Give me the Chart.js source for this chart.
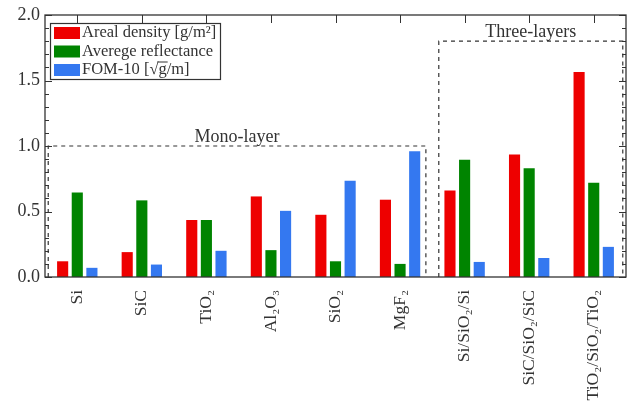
<!DOCTYPE html>
<html>
<head>
<meta charset="utf-8">
<script src="https://cdn.jsdelivr.net/npm/chart.js@4"></script>
<style>
html, body { margin: 0; background: #fff; }
#wrap { width: 630px; height: 407px; }
</style>
</head>
<body>
<div id="wrap"><canvas id="chartFom"></canvas></div>
<script>
var materials = ['Si', 'SiC', 'TiO₂', 'Al₂O₃', 'SiO₂', 'MgF₂', 'Si/SiO₂/Si', 'SiC/SiO₂/SiC', 'TiO₂/SiO₂/TiO₂'];
var arealDensity = [0.12, 0.19, 0.435, 0.615, 0.475, 0.59, 0.66, 0.935, 1.565];
var reflectance = [0.645, 0.585, 0.435, 0.205, 0.12, 0.10, 0.895, 0.83, 0.72];
var fom10 = [0.07, 0.095, 0.20, 0.505, 0.735, 0.96, 0.115, 0.145, 0.23];
var seriesNames = ['Areal density [g/m²]', 'Averege reflectance', 'FOM-10 [√g/m]'];
var groupNames = ['Mono-layer', 'Three-layers'];
var groupFrom = [-0.45, 5.6];
var groupTo = [5.4, 8.45];
var groupTop = [1.0, 1.8];

var serif = '"Liberation Serif", "DejaVu Serif", serif';
var ink = '#333';

// frame, inward ticks, dashed group boxes
var decor = {
    id: 'decor',
    afterDatasetsDraw: function(chart) {
        var c = chart.ctx, a = chart.chartArea, x = chart.scales.x, y = chart.scales.y;
        c.save();
        c.strokeStyle = ink;
        c.lineWidth = 1;
        for (var v = 0; v <= 20; v++) {
            var py = Math.round(y.getPixelForValue(v / 10)) + 0.5;
            var len = v % 5 == 0 ? 7 : 4;
            c.beginPath();
            c.moveTo(a.left, py); c.lineTo(a.left + len, py);
            c.moveTo(a.right, py); c.lineTo(a.right - len, py);
            c.stroke();
        }
        for (var i = 0; i < materials.length; i++) {
            var px = Math.round(x.getPixelForValue(i)) + 0.5;
            c.beginPath();
            c.moveTo(px, a.top); c.lineTo(px, a.top + 8);
            c.stroke();
        }
        c.lineWidth = 1.3;
        c.strokeRect(a.left, a.top, a.right - a.left, a.bottom - a.top);

        c.setLineDash([4, 4]);
        c.lineWidth = 1.2;
        c.font = '18px ' + serif;
        c.fillStyle = ink;
        c.textAlign = 'center';
        c.textBaseline = 'alphabetic';
        for (var g = 0; g < groupNames.length; g++) {
            var x0 = x.getPixelForValue(groupFrom[g]);
            var x1 = x.getPixelForValue(groupTo[g]);
            var yt = y.getPixelForValue(groupTop[g]);
            c.beginPath();
            c.moveTo(x0, a.bottom); c.lineTo(x0, yt); c.lineTo(x1, yt); c.lineTo(x1, a.bottom);
            c.stroke();
            c.fillText(groupNames[g], (x0 + x1) / 2, yt - 4);
        }
        c.restore();
    }
};

// boxed legend inside the plot, top-left
var boxLegend = {
    id: 'boxLegend',
    afterDraw: function(chart) {
        var c = chart.ctx;
        c.save();
        c.fillStyle = '#fff';
        c.fillRect(50, 23, 170, 56);
        c.strokeStyle = ink;
        c.lineWidth = 1.2;
        c.strokeRect(50.5, 23.5, 170, 56);
        c.font = '16.5px ' + serif;
        c.textBaseline = 'middle';
        chart.data.datasets.forEach(function(ds, k) {
            var ty = 33 + k * 18.5;
            c.fillStyle = ds.backgroundColor;
            c.fillRect(54, ty - 6, 26, 12);
            c.fillStyle = ink;
            if (k == 2) {
                var head = 'FOM-10 [√';
                c.fillText(head, 82, ty);
                var gx = 82 + c.measureText(head).width;
                var gw = c.measureText('g').width;
                c.fillText('g', gx, ty);
                c.fillText('/m]', gx + gw, ty);
                c.beginPath();
                c.lineWidth = 1;
                c.moveTo(gx - 1, ty - 8); c.lineTo(gx + gw + 1, ty - 8);
                c.stroke();
            } else {
                c.fillText(ds.label, 82, ty);
            }
        });
        c.restore();
    }
};

var ctx = document.getElementById('chartFom').getContext('2d');
var chart = new Chart(ctx, {
    type: 'bar',
    data: {
        labels: materials,
        datasets: [{
            label: seriesNames[0],
            backgroundColor: 'rgb(238,0,0)',
            data: arealDensity
        }, {
            label: seriesNames[1],
            backgroundColor: 'rgb(0,132,0)',
            data: reflectance
        }, {
            label: seriesNames[2],
            backgroundColor: 'rgb(52,120,240)',
            data: fom10
        }]
    },
    options: {
        responsive: true,
        maintainAspectRatio: false,
        animation: false,
        layout: { padding: { top: 15, right: 4, left: 0, bottom: 0 } },
        categoryPercentage: 0.68,
        barPercentage: 0.76,
        plugins: {
            legend: { display: false },
            tooltip: { enabled: false }
        },
        scales: {
            x: {
                grid: { display: false },
                border: { display: false },
                ticks: {
                    minRotation: 90,
                    maxRotation: 90,
                    autoSkip: false,
                    padding: 5,
                    color: ink,
                    font: { family: serif, size: 17.5 }
                },
                afterFit: function(s) { s.height = 130; }
            },
            y: {
                min: 0,
                max: 2,
                grid: { display: false },
                border: { display: false },
                ticks: {
                    stepSize: 0.1,
                    autoSkip: false,
                    padding: -3,
                    color: ink,
                    font: { family: serif, size: 18 },
                    callback: function(v) {
                        var n = Math.round(v * 10);
                        return n % 5 == 0 ? (n / 10).toFixed(1) : '';
                    }
                },
                afterFit: function(s) { s.width = 45; }
            }
        }
    },
    plugins: [decor, boxLegend]
});
</script>
</body>
</html>
